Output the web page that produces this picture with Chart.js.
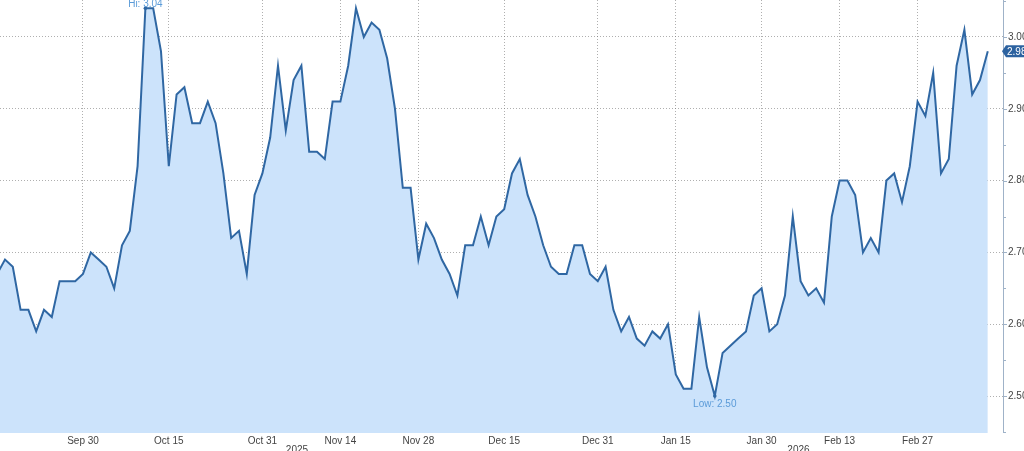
<!DOCTYPE html>
<html>
<head>
<meta charset="utf-8">
<script src="https://cdn.jsdelivr.net/npm/chart.js@4"></script>
<style>
  html, body { margin: 0; padding: 0; background: #fff; }
  #wrap { width: 1024px; height: 451px; }
</style>
</head>
<body>
<div id="wrap"><canvas id="priceChart" width="1024" height="451"></canvas></div>
<script>
// Daily values, first one sits just off the left edge
const firstIndex = -1;
const values = [
    2.67, 2.69, 2.68, 2.62, 2.62, 2.59, 2.62, 2.61, 2.66, 2.66, 2.66,
    2.67, 2.70, 2.69, 2.68, 2.65, 2.71, 2.73, 2.82, 3.04, 3.04,
    2.98, 2.82, 2.92, 2.93, 2.88, 2.88, 2.91, 2.88, 2.81, 2.72,
    2.73, 2.67, 2.78, 2.81, 2.86, 2.96, 2.87, 2.94, 2.96, 2.84,
    2.84, 2.83, 2.91, 2.91, 2.96, 3.04, 3.00, 3.02, 3.01, 2.97,
    2.90, 2.79, 2.79, 2.69, 2.74, 2.72, 2.69, 2.67, 2.64, 2.71,
    2.71, 2.75, 2.71, 2.75, 2.76, 2.81, 2.83, 2.78, 2.75, 2.71,
    2.68, 2.67, 2.67, 2.71, 2.71, 2.67, 2.66, 2.68, 2.62, 2.59,
    2.61, 2.58, 2.57, 2.59, 2.58, 2.60, 2.53, 2.51, 2.51, 2.61,
    2.54, 2.50, 2.56, 2.57, 2.58, 2.59, 2.64, 2.65, 2.59, 2.60,
    2.64, 2.75, 2.66, 2.64, 2.65, 2.63, 2.75, 2.80, 2.80, 2.78,
    2.70, 2.72, 2.70, 2.80, 2.81, 2.77, 2.82, 2.91, 2.89, 2.95,
    2.81, 2.83, 2.96, 3.01, 2.92, 2.94, 2.98
];

// Date ticks on the bottom axis (index into the daily series)
const tickIdx = [10, 21, 33, 43, 53, 64, 76, 86, 97, 107, 117];
const tickLabels = ['Sep 30', 'Oct 15', 'Oct 31', 'Nov 14', 'Nov 28', 'Dec 15',
    'Dec 31', 'Jan 15', 'Jan 30', 'Feb 13', 'Feb 27'];

// Year captions and where each year starts/ends on the index axis
const yearLabels = ['2025', '2026'];
const yearBreaks = [-0.64, 75.5, 127.95];

// Right axis
const yTicks = [2.50, 2.60, 2.70, 2.80, 2.90, 3.00];
const yMinorTicks = [2.45, 2.55, 2.65, 2.75, 2.85, 2.95, 3.05];

const lineColor = '#2f67a3';
const fillColor = '#cce3fb';
const noteColor = '#5b9bd8';
const textColor = '#444';
const fontFamily = "'Liberation Sans Narrow', 'Liberation Sans', Arial, sans-serif";

const points = values.map((v, i) => ({ x: i + firstIndex, y: v }));

// no extra label padding, the plot runs right to the canvas edges
function noPadding(s) {
    s.paddingTop = 0;
    s.paddingBottom = 0;
    s.paddingLeft = 0;
    s.paddingRight = 0;
}

// Hi / Low notes, last price tag, year captions and the axis ticks
const extrasPlugin = {
    id: 'extras',
    afterDraw(chart) {
        const ctx = chart.ctx;
        const xs = chart.scales.x;
        const ys = chart.scales.y;
        const area = chart.chartArea;

        ctx.save();
        ctx.font = '10px ' + fontFamily;

        // hi / low
        let hi = 0, lo = 0;
        values.forEach((v, i) => {
            if (v > values[hi]) hi = i;
            if (v < values[lo]) lo = i;
        });
        const hx = xs.getPixelForValue(hi + firstIndex), hy = ys.getPixelForValue(values[hi]);
        const lx = xs.getPixelForValue(lo + firstIndex), ly = ys.getPixelForValue(values[lo]);
        ctx.fillStyle = lineColor;
        [[hx, hy], [lx, ly]].forEach(p => {
            ctx.beginPath();
            ctx.arc(p[0], p[1], 1.8, 0, Math.PI * 2);
            ctx.fill();
        });
        ctx.fillStyle = noteColor;
        ctx.textAlign = 'center';
        ctx.textBaseline = 'alphabetic';
        ctx.fillText('Hi: ' + values[hi].toFixed(2), hx, hy - 1);
        ctx.textBaseline = 'top';
        ctx.fillText('Low: ' + values[lo].toFixed(2), lx, ly + 3);

        // axis line and tick marks on the right
        ctx.strokeStyle = '#9fb2c8';
        ctx.lineWidth = 1;
        ctx.beginPath();
        ctx.moveTo(area.right + 0.5, 0);
        ctx.lineTo(area.right + 0.5, area.bottom);
        yTicks.forEach(v => {
            const y = Math.round(ys.getPixelForValue(v)) + 0.5;
            ctx.moveTo(area.right, y);
            ctx.lineTo(area.right + 4, y);
        });
        yMinorTicks.forEach(v => {
            const y = Math.round(ys.getPixelForValue(v)) + 0.5;
            ctx.moveTo(area.right, y);
            ctx.lineTo(area.right + 3, y);
        });
        ctx.stroke();

        // last price tag
        const last = values[values.length - 1];
        const ty = ys.getPixelForValue(last);
        ctx.fillStyle = '#2c62a0';
        ctx.beginPath();
        ctx.moveTo(area.right - 1, ty);
        ctx.lineTo(area.right + 3, ty - 6);
        ctx.lineTo(chart.width, ty - 6);
        ctx.lineTo(chart.width, ty + 6);
        ctx.lineTo(area.right + 3, ty + 6);
        ctx.closePath();
        ctx.fill();
        ctx.fillStyle = '#fff';
        ctx.textAlign = 'left';
        ctx.textBaseline = 'middle';
        ctx.fillText(last.toFixed(2), area.right + 4, ty + 0.5);

        // year captions under the dates
        ctx.fillStyle = textColor;
        ctx.textAlign = 'center';
        ctx.textBaseline = 'middle';
        yearLabels.forEach((t, i) => {
            const cx = (xs.getPixelForValue(yearBreaks[i]) + xs.getPixelForValue(yearBreaks[i + 1])) / 2;
            ctx.fillText(t, cx, 450);
        });
        ctx.restore();
    }
};

const ctx = document.getElementById('priceChart').getContext('2d');
new Chart(ctx, {
    type: 'line',
    data: {
        datasets: [{
            data: points,
            borderColor: lineColor,
            backgroundColor: fillColor,
            borderWidth: 2,
            fill: 'start',
            pointRadius: 0,
            tension: 0
        }]
    },
    options: {
        responsive: false,
        animation: false,
        layout: { padding: 0 },
        plugins: {
            legend: { display: false },
            tooltip: { enabled: false }
        },
        scales: {
            x: {
                type: 'linear',
                min: yearBreaks[0],
                max: yearBreaks[yearBreaks.length - 1],
                afterBuildTicks: s => { s.ticks = tickIdx.map(v => ({ value: v })); },
                afterFit: s => { s.height = 18; noPadding(s); },
                ticks: {
                    callback: v => tickLabels[tickIdx.indexOf(v)],
                    autoSkip: false,
                    maxRotation: 0,
                    padding: 2,
                    color: textColor,
                    font: { family: fontFamily, size: 10 }
                },
                grid: { color: 'rgba(110,110,110,0.55)', drawTicks: false },
                border: { display: false, dash: [1, 2] }
            },
            y: {
                position: 'right',
                min: 2.4485,
                max: 3.0515,
                afterBuildTicks: s => { s.ticks = yTicks.map(v => ({ value: v })); },
                afterFit: s => { s.width = 21; noPadding(s); },
                ticks: {
                    callback: v => v.toFixed(2),
                    padding: 5,
                    color: textColor,
                    font: { family: fontFamily, size: 10 }
                },
                grid: { color: 'rgba(110,110,110,0.55)', drawTicks: false },
                border: { display: false, dash: [1, 2] }
            }
        }
    },
    plugins: [extrasPlugin]
});
</script>
</body>
</html>
